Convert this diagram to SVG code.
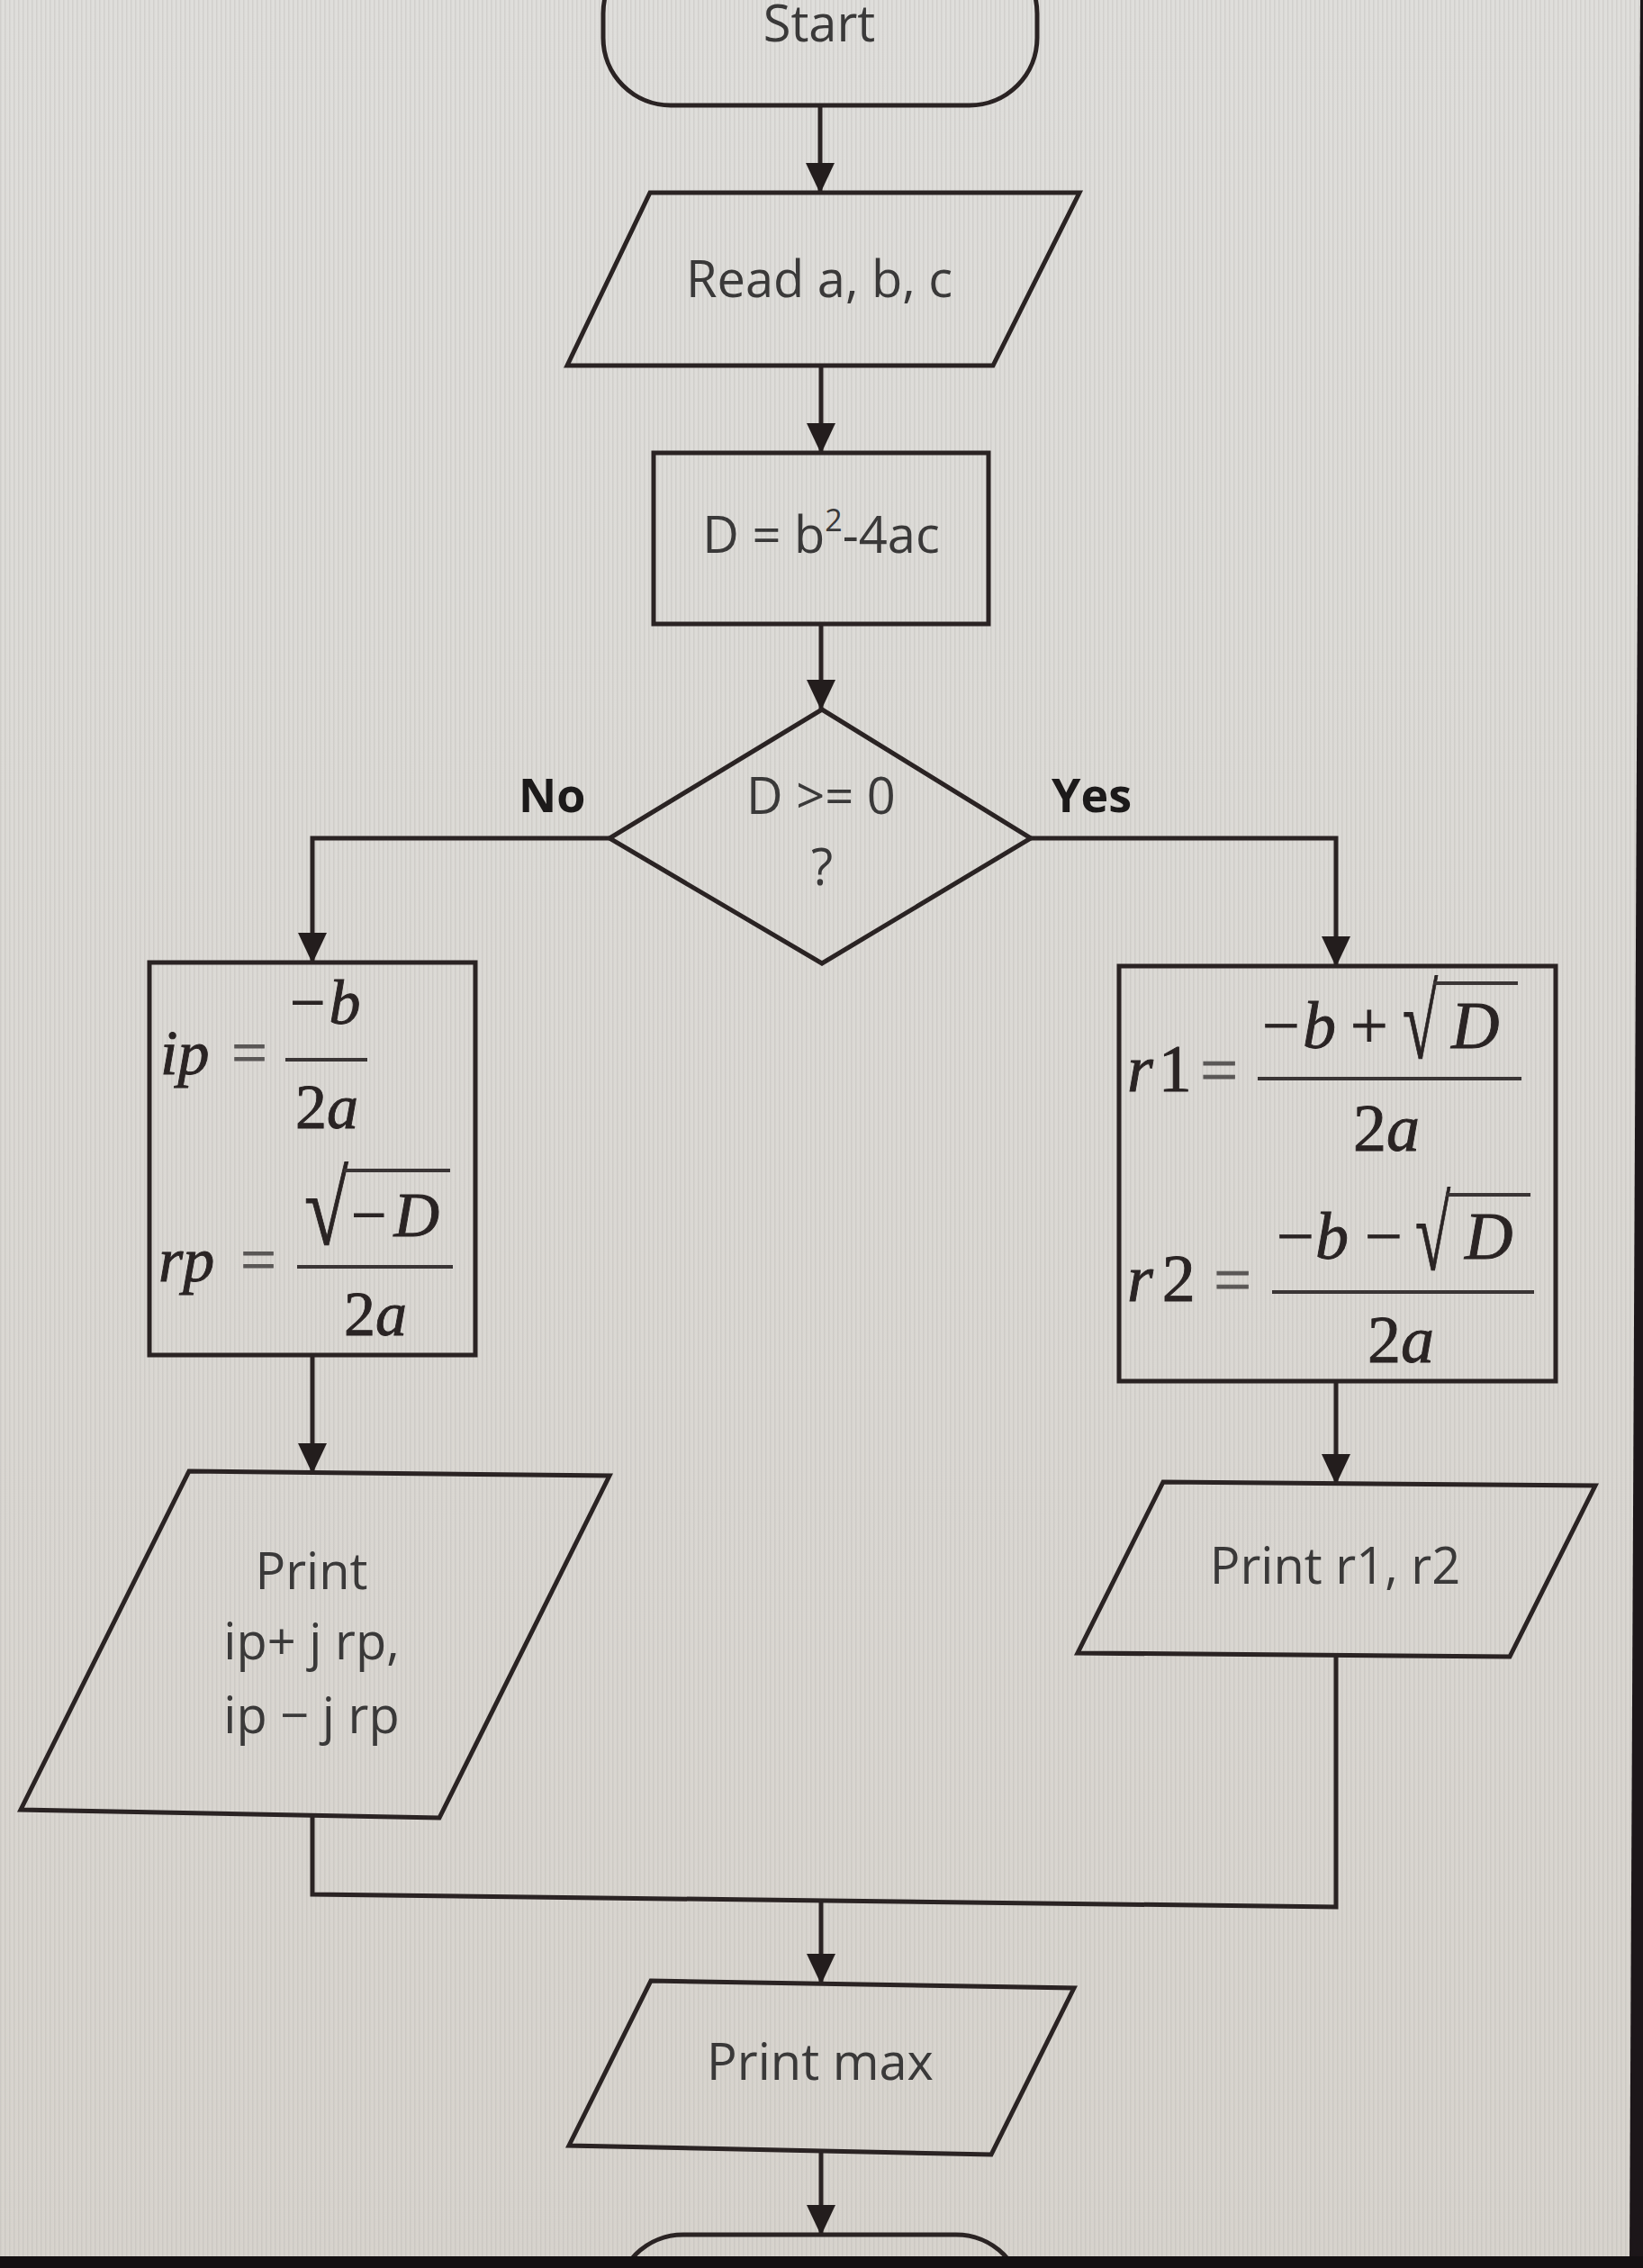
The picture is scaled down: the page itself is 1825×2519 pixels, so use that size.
<svg xmlns="http://www.w3.org/2000/svg" width="1825" height="2519" viewBox="0 0 1825 2519">
<defs>
<marker id="arrow" markerUnits="userSpaceOnUse" markerWidth="34" markerHeight="34" viewBox="0 0 34 34" refX="33" refY="17" orient="auto"><path d="M0,1 L34,17 L0,33 Z" fill="#231d1d"/></marker>
<linearGradient id="bg" x1="0" y1="0" x2="0" y2="1"><stop offset="0" stop-color="#dfdedb"/><stop offset="1" stop-color="#d7d3cd"/></linearGradient>
<pattern id="stripes" width="5" height="10" patternUnits="userSpaceOnUse"><rect width="1.5" height="10" fill="#b4b2ae" opacity="0.3"/></pattern>
</defs>
<style>
.shape{fill:none;stroke:#2a2323;stroke-width:5;stroke-linejoin:miter}
.conn{fill:none;stroke:#2a2323;stroke-width:5}
.lbl{font-family:"Open Sans",sans-serif;font-size:56px;fill:#3a3939;text-anchor:middle}
.yn{font-family:"Open Sans",sans-serif;font-size:52px;font-weight:bold;fill:#1c1a1a}
.m{font-family:"Liberation Serif",serif;font-size:70px;fill:#2a2424;stroke:#2a2424;stroke-width:0.9}
.m2{font-family:"Liberation Serif",serif;font-size:74px;fill:#2a2424;stroke:#2a2424;stroke-width:0.9}
.eq{fill:#5a5756;stroke:#5a5756}
.mi{font-style:italic}
.fb{stroke:#3a3535;stroke-width:4}
.rad{font-family:"Liberation Serif",serif;font-size:89px;fill:#2a2424;stroke:#2a2424;stroke-width:0.8}
</style>
<rect x="0" y="0" width="1825" height="2519" fill="url(#bg)"/>
<rect x="0" y="0" width="1825" height="2519" fill="url(#stripes)"/>

<g id="connectors">
<line class="conn" x1="911" y1="117" x2="911" y2="214" marker-end="url(#arrow)"/>
<line class="conn" x1="912" y1="406" x2="912" y2="503" marker-end="url(#arrow)"/>
<line class="conn" x1="912" y1="692" x2="912" y2="788" marker-end="url(#arrow)"/>
<polyline class="conn" points="677,931 347,931 347,1069" marker-end="url(#arrow)"/>
<polyline class="conn" points="1145,931 1484,931 1484,1073" marker-end="url(#arrow)"/>
<line class="conn" x1="347" y1="1505" x2="347" y2="1636" marker-end="url(#arrow)"/>
<line class="conn" x1="1484" y1="1534" x2="1484" y2="1648" marker-end="url(#arrow)"/>
<polyline class="conn" points="347,2016 347,2104 1484,2118 1484,1838"/>
<line class="conn" x1="912" y1="2111" x2="912" y2="2203" marker-end="url(#arrow)"/>
<line class="conn" x1="912" y1="2389" x2="912" y2="2482" marker-end="url(#arrow)"/>
<text class="yn" x="576" y="902">No</text>
<text class="yn" x="1168" y="902">Yes</text>
</g>

<g id="start">
<rect class="shape" x="670" y="-60" width="482" height="177" rx="75" ry="75"/>
<text class="lbl" x="910" y="46">Start</text>
</g>

<g id="read">
<polygon class="shape" points="722,214 1199,214 1103,406 630,406"/>
<text class="lbl" x="910" y="330">Read a, b, c</text>
</g>

<g id="calcD">
<rect class="shape" x="726" y="503" width="372" height="190"/>
<text class="lbl" x="912" y="614">D = b<tspan font-size="34" dy="-24">2</tspan><tspan dy="24">-4ac</tspan></text>
</g>

<g id="decision">
<polygon class="shape" points="913,788 1145,931 913,1070 677,931"/>
<text class="lbl" x="912" y="904">D &gt;= 0</text>
<text class="lbl" x="913" y="983">?</text>
</g>

<g id="complexCalc">
<rect class="shape" x="166" y="1069" width="362" height="436"/>
<text class="m mi" x="178" y="1193">ip</text>
<text class="m eq" x="277" y="1193" text-anchor="middle">=</text>
<line class="fb" x1="317" y1="1177" x2="408" y2="1177"/>
<text class="m" x="322" y="1137">−<tspan class="mi" dx="4">b</tspan></text>
<text class="m" x="363" y="1253" text-anchor="middle">2<tspan class="mi">a</tspan></text>
<text class="m mi" x="176" y="1423">rp</text>
<text class="m eq" x="287" y="1423" text-anchor="middle">=</text>
<line class="fb" x1="330" y1="1407" x2="503" y2="1407"/>
<text class="rad" transform="translate(338,1382) scale(1,1.3)">√</text>
<line class="fb" x1="382" y1="1300" x2="500" y2="1300"/>
<text class="m" x="390" y="1373">−<tspan class="mi" dx="8">D</tspan></text>
<text class="m" x="417" y="1483" text-anchor="middle">2<tspan class="mi">a</tspan></text>
</g>

<g id="realCalc">
<rect class="shape" x="1243" y="1073" width="485" height="461"/>
<text class="m2" x="1252" y="1212"><tspan class="mi">r</tspan><tspan dx="6">1</tspan></text>
<text class="m2 eq" x="1354" y="1213" text-anchor="middle">=</text>
<line class="fb" x1="1397" y1="1198" x2="1690" y2="1198"/>
<text class="m2" x="1402" y="1164">−</text>
<text class="m2 mi" x="1447" y="1164">b</text>
<text class="m2" x="1500" y="1164">+</text>
<text class="rad" transform="translate(1558,1175) scale(0.8,1.3)">√</text>
<line class="fb" x1="1592" y1="1092" x2="1686" y2="1092"/>
<text class="m2 mi" x="1612" y="1164">D</text>
<text class="m2" x="1540" y="1278" text-anchor="middle">2<tspan class="mi">a</tspan></text>
<text class="m2" x="1252" y="1445"><tspan class="mi">r</tspan><tspan dx="10">2</tspan></text>
<text class="m2 eq" x="1369" y="1446" text-anchor="middle">=</text>
<line class="fb" x1="1413" y1="1435" x2="1704" y2="1435"/>
<text class="m2" x="1418" y="1398">−</text>
<text class="m2 mi" x="1461" y="1398">b</text>
<text class="m2" x="1516" y="1398">−</text>
<text class="rad" transform="translate(1572,1410) scale(0.8,1.3)">√</text>
<line class="fb" x1="1606" y1="1327" x2="1700" y2="1327"/>
<text class="m2 mi" x="1627" y="1398">D</text>
<text class="m2" x="1556" y="1513" text-anchor="middle">2<tspan class="mi">a</tspan></text>
</g>

<g id="printComplex">
<polygon class="shape" points="210,1634 677,1639 488,2019 23,2010"/>
<text class="lbl" x="346" y="1765">Print</text>
<text class="lbl" x="346" y="1843">ip+ j rp,</text>
<text class="lbl" x="346" y="1925">ip − j rp</text>
</g>

<g id="printReal">
<polygon class="shape" points="1292,1646 1772,1650 1677,1840 1197,1836"/>
<text class="lbl" x="1483" y="1759">Print r1, r2</text>
</g>

<g id="printMax">
<polygon class="shape" points="723,2200 1193,2208 1101,2393 632,2383"/>
<text class="lbl" x="911" y="2310">Print max</text>
</g>

<g id="end">
<rect class="shape" x="684" y="2482" width="453" height="150" rx="75" ry="75"/>
</g>

<polygon points="1822,0 1825,0 1825,2519 1810,2519" fill="#1c1619"/>
<rect x="0" y="2506" width="1825" height="13" fill="#141012"/>
</svg>
